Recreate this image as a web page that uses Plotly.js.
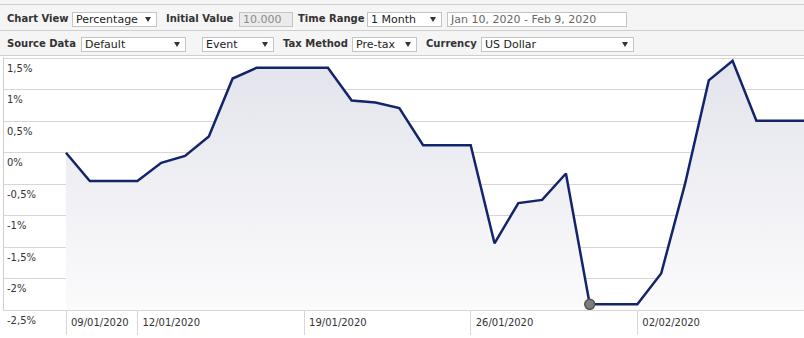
<!DOCTYPE html>
<html><head><meta charset="utf-8">
<script src="https://cdn.plot.ly/plotly-3.0.1.min.js"></script>
<style>
body{margin:0;width:804px;height:338px;overflow:hidden;background:#fff;font-family:"DejaVu Sans",Verdana,sans-serif;}
#chart{position:absolute;left:0;top:0;width:804px;height:338px;}
#bar{position:absolute;left:0;top:0;width:804px;height:56px;background:#f5f5f5;z-index:5;}
.hl{position:absolute;left:0;width:804px;height:1px;background:#cfcfcf;}
.lbl{position:absolute;font-weight:bold;font-size:10px;color:#333;line-height:14px;white-space:nowrap;}
.box{position:absolute;height:15px;border:1px solid #c4c4c4;background:#fff;font-size:11px;line-height:13px;color:#222;box-sizing:border-box;padding-left:3px;white-space:nowrap;overflow:hidden;}
.arr{position:absolute;right:5px;top:4px;width:0;height:0;border-left:3.5px solid transparent;border-right:3.5px solid transparent;border-top:5px solid #333;}
</style>
</head><body>
<div id="chart"></div>
<div id="bar">
  <div class="hl" style="top:4px"></div>
  <div class="hl" style="top:30px"></div>
  <div class="hl" style="top:55px"></div>
  <div class="lbl" style="left:7px;top:12px">Chart View</div>
  <div class="box" style="left:72px;top:12px;width:85px">Percentage<span class="arr"></span></div>
  <div class="lbl" style="left:166px;top:12px">Initial Value</div>
  <div class="box" style="left:239px;top:12px;width:54px;background:#ebebeb;color:#8a8a8a">10.000</div>
  <div class="lbl" style="left:298px;top:12px">Time Range</div>
  <div class="box" style="left:367px;top:12px;width:75px">1 Month<span class="arr"></span></div>
  <div class="box" style="left:447px;top:12px;width:180px;color:#666">Jan 10, 2020 - Feb 9, 2020</div>

  <div class="lbl" style="left:7px;top:37px">Source Data</div>
  <div class="box" style="left:81px;top:37px;width:105px">Default<span class="arr"></span></div>
  <div class="box" style="left:202px;top:37px;width:72px">Event<span class="arr"></span></div>
  <div class="lbl" style="left:283px;top:37px">Tax Method</div>
  <div class="box" style="left:352px;top:37px;width:65px">Pre-tax<span class="arr"></span></div>
  <div class="lbl" style="left:426px;top:37px">Currency</div>
  <div class="box" style="left:481px;top:37px;width:153px">US Dollar<span class="arr"></span></div>
</div>
<script>
const dates = ['2020-01-09','2020-01-10','2020-01-11','2020-01-12','2020-01-13','2020-01-14','2020-01-15','2020-01-16',
  '2020-01-17','2020-01-18','2020-01-19','2020-01-20','2020-01-21','2020-01-22','2020-01-23','2020-01-24',
  '2020-01-25','2020-01-26','2020-01-27','2020-01-28','2020-01-29','2020-01-30','2020-01-31','2020-02-01',
  '2020-02-02','2020-02-03','2020-02-04','2020-02-05','2020-02-06','2020-02-07','2020-02-08','2020-02-09'];
const pctChange = [0, -0.45, -0.45, -0.45, -0.16, -0.05, 0.26, 1.18,
  1.35, 1.35, 1.35, 1.35, 0.83, 0.80, 0.71, 0.12,
  0.12, 0.12, -1.44, -0.80, -0.75, -0.33, -2.41, -2.41,
  -2.41, -1.92, -0.50, 1.15, 1.46, 0.51, 0.51, 0.51];
const xTickVals = ['2020-01-09','2020-01-12','2020-01-19','2020-01-26','2020-02-02'];
const xTickText = ['09/01/2020','12/01/2020','19/01/2020','26/01/2020','02/02/2020'];
const yTickVals = [-2.5,-2,-1.5,-1,-0.5,0,0.5,1,1.5];
const yTickText = ['-2,5%','-2%','-1,5%','-1%','-0,5%','0%','0,5%','1%','1,5%'];

const yMin = yTickVals[0];
const minIdx = pctChange.indexOf(Math.min(...pctChange));
const fontF = 'DejaVu Sans, Verdana, sans-serif';

const traces = [
  {x: dates, y: dates.map(() => yMin), mode:'lines', line:{width:0}, hoverinfo:'skip', showlegend:false},
  {x: dates, y: pctChange, mode:'lines', fill:'tonexty',
   fillgradient:{type:'vertical', start:yMin, stop:1.5,
     colorscale:[[0,'rgba(251,251,252,1)'],[1,'rgba(227,228,236,1)']]},
   line:{color:'#14246a', width:2.5}, showlegend:false},
  {x:[dates[minIdx]], y:[pctChange[minIdx]], mode:'markers',
   marker:{size:10, color:'#7d7d7d', line:{color:'#555', width:1.5}}, showlegend:false}
];

const annotations = yTickVals.map((v,i) => ({
  xref:'paper', yref:'y', x:0, y:v, xanchor:'left', yanchor:'middle', xshift:1, yshift:-10,
  text:yTickText[i], showarrow:false, font:{family:fontF, size:10, color:'#333'}
}));

const layout = {
  width:804, height:338,
  margin:{l:4, r:0, t:57, b:28, pad:0},
  paper_bgcolor:'#fff', plot_bgcolor:'#fff',
  showlegend:false,
  xaxis:{type:'date', range:['2020-01-06 09:30','2020-02-09'], tickvals:xTickVals, ticktext:xTickText,
    ticks:'outside', ticklen:24, tickcolor:'#d6d6d6', tickwidth:1, showgrid:false,
    showline:true, linecolor:'#d6d6d6', linewidth:1, zeroline:false,
    ticklabelposition:'outside right', ticklabelstandoff:3, ticklabelshift:4,
    tickfont:{family:fontF, size:10, color:'#333'}, fixedrange:true},
  yaxis:{range:[yMin, 1.522], tickvals:yTickVals, showticklabels:false,
    showgrid:true, gridcolor:'#d6d6d6', gridwidth:1, zeroline:false,
    showline:true, linecolor:'#cfcfcf', linewidth:1, ticks:'', fixedrange:true},
  annotations: annotations
};
Plotly.newPlot('chart', traces, layout, {displayModeBar:false, staticPlot:true});
</script>
</body></html>
